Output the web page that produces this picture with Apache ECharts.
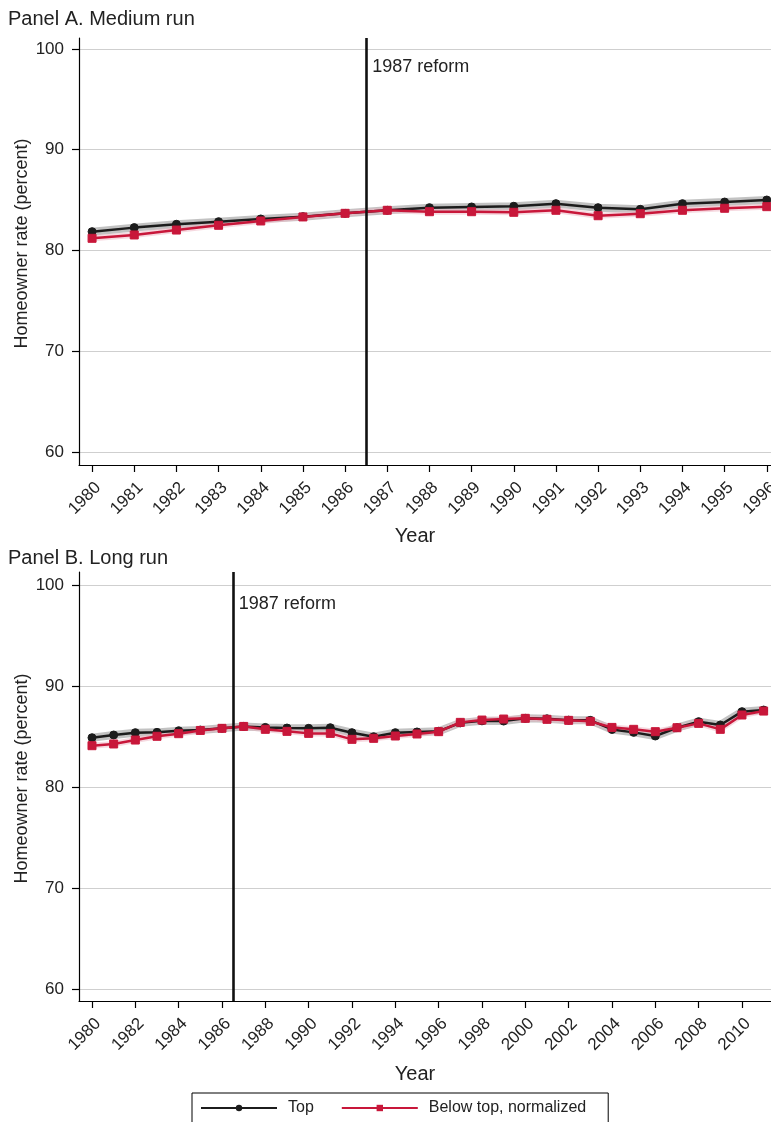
<!DOCTYPE html>
<html>
<head>
<meta charset="utf-8">
<script src="https://cdn.jsdelivr.net/npm/echarts@6/dist/echarts.min.js"></script>
<style>
  html, body { margin: 0; padding: 0; background: #fff; }
  #chart { width: 771px; height: 1122px; }
</style>
</head>
<body>
<div id="chart"></div>
<script>
// Panel A: medium run, 1980-1996
const yearsA = [1980,1981,1982,1983,1984,1985,1986,1987,1988,1989,1990,1991,1992,1993,1994,1995,1996];
const topA   = [81.87,82.27,82.60,82.86,83.13,83.36,83.69,83.99,84.25,84.32,84.39,84.65,84.25,84.09,84.65,84.81,85.01];
const belowA = [81.21,81.54,82.03,82.50,82.93,83.33,83.69,83.99,83.85,83.85,83.79,83.99,83.45,83.65,83.99,84.19,84.35];

// Panel B: long run, 1980-2011
const yearsB = [1980,1981,1982,1983,1984,1985,1986,1987,1988,1989,1990,1991,1992,1993,1994,1995,
                1996,1997,1998,1999,2000,2001,2002,2003,2004,2005,2006,2007,2008,2009,2010,2011];
const topB   = [84.88,85.15,85.38,85.41,85.57,85.64,85.81,86.00,85.90,85.84,85.81,85.87,85.38,84.98,85.38,85.45,
                85.52,86.35,86.55,86.53,86.80,86.75,86.62,86.60,85.70,85.41,85.05,85.87,86.47,86.14,87.46,87.62];
const belowB = [84.09,84.26,84.65,85.02,85.28,85.60,85.81,86.00,85.71,85.51,85.31,85.31,84.72,84.82,85.05,85.25,
                85.48,86.40,86.63,86.73,86.80,86.70,86.60,86.50,85.90,85.71,85.48,85.87,86.30,85.71,87.13,87.52];

const yTicks = [60, 70, 80, 90, 100];
const xTicksA = yearsA.slice();
const xTicksB = [1980,1982,1984,1986,1988,1990,1992,1994,1996,1998,2000,2002,2004,2006,2008,2010];
const reformYear = 1986.5;
const reformLabel = '1987 reform';

const FONT = '"Liberation Sans", Arial, Helvetica, sans-serif';
const TEXT = '#222';
const BLACK = '#1c1c1c';
const RED = '#c8173a';

const pairs = (xs, ys) => xs.map((x, i) => [x, ys[i]]);

function xAxis(gridIndex, min, max, ticks, nameGap) {
  return {
    type: 'value', gridIndex, min, max,
    name: 'Year', nameLocation: 'middle', nameGap,
    nameTextStyle: { fontFamily: FONT, fontSize: 20, color: TEXT, padding: [0, 20, 0, 0] },
    axisLine: { show: true, onZero: false, lineStyle: { color: '#000', width: 1.2 } },
    axisTick: { show: true, length: 7, customValues: ticks, lineStyle: { color: '#000', width: 1.2 } },
    axisLabel: {
      customValues: ticks, rotate: 45, margin: 14, verticalAlign: 'top',
      fontFamily: FONT, fontSize: 17, color: TEXT, formatter: v => String(v)
    },
    splitLine: { show: false }
  };
}
function yAxis(gridIndex, min, max) {
  return {
    type: 'value', gridIndex, min, max,
    name: 'Homeowner rate (percent)', nameLocation: 'middle', nameGap: 48, nameRotate: 90,
    nameMoveOverlap: false,
    nameTextStyle: { fontFamily: FONT, fontSize: 18, color: TEXT, padding: [0, 0, 0, 16] },
    axisLine: { show: true, onZero: false, lineStyle: { color: '#000', width: 1.2 } },
    axisTick: { show: true, length: 7, customValues: yTicks, lineStyle: { color: '#000', width: 1.2 } },
    axisLabel: { customValues: yTicks, margin: 15, fontFamily: FONT, fontSize: 17, color: TEXT },
    splitLine: { show: true, lineStyle: { color: '#cfcfcf', width: 1.2 } }
  };
}

function panelSeries(idx, xs, top, below, labelY) {
  const halo = (data, color, width) => ({
    type: 'line', xAxisIndex: idx, yAxisIndex: idx, data, silent: true,
    symbol: 'none', z: 1, lineStyle: { color, width, opacity: 0.55 }
  });
  return [
    halo(pairs(xs, top), '#8f8f8f', 8),
    halo(pairs(xs, below), '#efb9c6', 6),
    {
      name: 'Top', type: 'line', xAxisIndex: idx, yAxisIndex: idx, z: 3,
      data: pairs(xs, top),
      symbol: 'circle', symbolSize: 8,
      itemStyle: { color: BLACK, borderColor: BLACK },
      lineStyle: { color: BLACK, width: 2.5 },
      markLine: {
        silent: true, symbol: 'none', label: { show: false },
        lineStyle: { color: '#111', width: 2.6, type: 'solid' },
        data: [{ xAxis: reformYear }]
      },
      markPoint: {
        symbol: 'rect', symbolSize: 0,
        label: {
          show: true, position: 'right', distance: 6, formatter: reformLabel,
          fontFamily: FONT, fontSize: 18, color: TEXT
        },
        data: [{ coord: [reformYear, labelY] }]
      }
    },
    {
      name: 'Below top, normalized', type: 'line', xAxisIndex: idx, yAxisIndex: idx, z: 4,
      data: pairs(xs, below),
      symbol: 'rect', symbolSize: 8,
      itemStyle: { color: RED, borderColor: RED },
      lineStyle: { color: RED, width: 2.5 }
    }
  ];
}

const chart = echarts.init(document.getElementById('chart'), null, { renderer: 'canvas' });
chart.setOption({
  animation: false,
  backgroundColor: '#fff',
  title: [
    { text: 'Panel A. Medium run', left: 3, top: 4, textStyle: { fontFamily: FONT, fontSize: 20, fontWeight: 'normal', color: TEXT } },
    { text: 'Panel B. Long run', left: 3, top: 543, textStyle: { fontFamily: FONT, fontSize: 20, fontWeight: 'normal', color: TEXT } }
  ],
  grid: [
    { left: 79, right: 0, top: 38, height: 427, outerBoundsMode: 'none', containLabel: false },
    { left: 79, right: 0, top: 572, height: 429, outerBoundsMode: 'none', containLabel: false }
  ],
  xAxis: [ xAxis(0, 1979.69, 1996.1, xTicksA, 61), xAxis(1, 1979.4, 2011.34, xTicksB, 63) ],
  yAxis: [ yAxis(0, 58.71, 101.09), yAxis(1, 58.81, 101.29) ],
  legend: {
    left: 192, top: 1093,
    data: ['Top', 'Below top, normalized'],
    itemWidth: 76, itemHeight: 8, itemGap: 27,
    padding: [7, 22, 10, 8],
    borderColor: '#000', borderWidth: 1,
    textStyle: { fontFamily: FONT, fontSize: 16, color: TEXT, padding: [0, 0, 0, 6] }
  },
  series: [
    ...panelSeries(0, yearsA, topA, belowA, 98.2),
    ...panelSeries(1, yearsB, topB, belowB, 98.1)
  ]
});
</script>
</body>
</html>
